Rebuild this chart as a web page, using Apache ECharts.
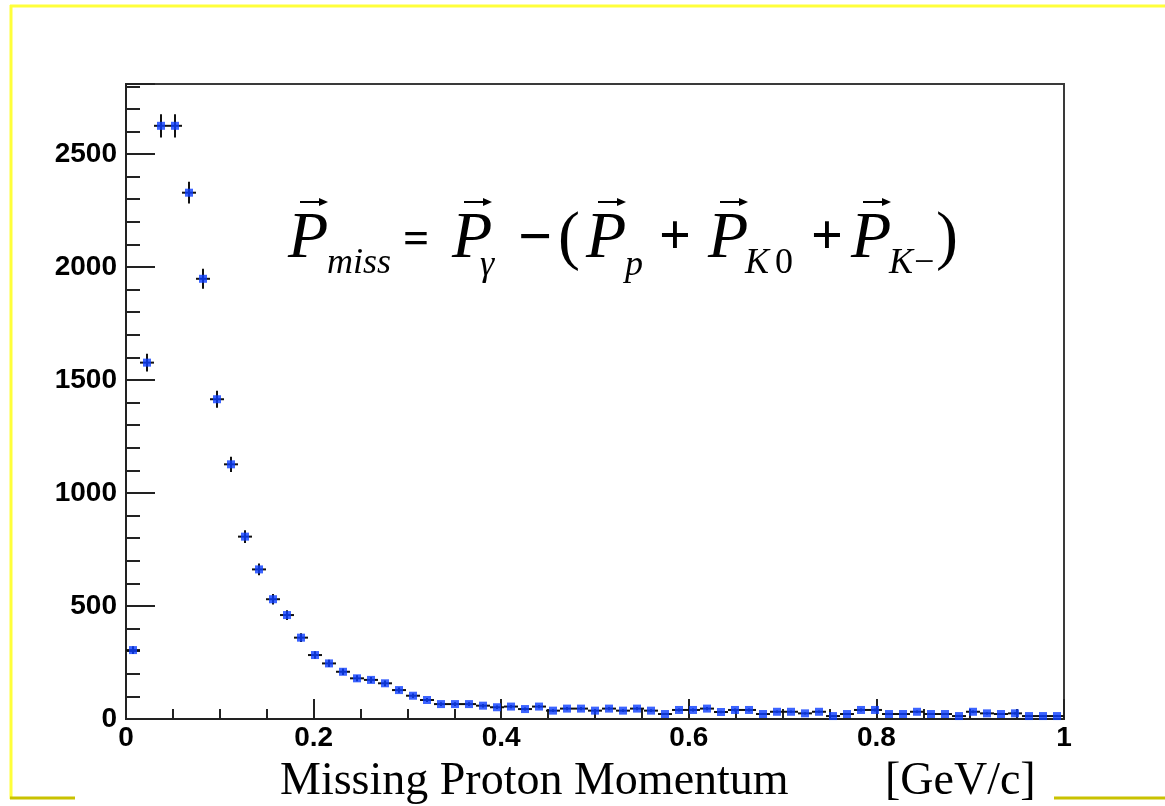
<!DOCTYPE html>
<html>
<head>
<meta charset="utf-8">
<title>Missing Proton Momentum</title>
<script src="https://cdn.jsdelivr.net/npm/echarts@6/dist/echarts.min.js"></script>
<style>
  html, body { margin: 0; padding: 0; background: #ffffff; }
  #chart { width: 1165px; height: 806px; }
</style>
</head>
<body>
<div id="chart"></div>
<script>
// Histogram of the missing proton momentum, 67 equal bins over [0, 1] GeV/c
const X_MIN = 0;
const X_MAX = 1;
const counts = [
  305, 1577, 2625, 2625, 2329, 1948, 1415, 1127, 807, 662,
  530, 460, 360, 283, 246, 209, 180, 173, 158, 128,
  103, 84, 66, 66, 66, 59, 52, 55, 44, 55,
  37, 46, 46, 37, 46, 37, 46, 37, 22, 40,
  40, 46, 31, 40, 40, 22, 32, 32, 25, 32,
  13, 22, 40, 40, 22, 22, 32, 22, 22, 13,
  32, 25, 22, 25, 13, 13, 13
];
const Y_MAX = 2810;
const xTickStep = 0.2;
const yTickStep = 500;
const yMinorStep = 100;

const binWidth = (X_MAX - X_MIN) / counts.length;
// [bin centre, entries, statistical error]
const points = counts.map((n, k) => [X_MIN + (k + 0.5) * binWidth, n, Math.sqrt(n)]);

const chart = echarts.init(document.getElementById('chart'), null, { renderer: 'canvas' });

const labelFont = { fontFamily: 'Liberation Sans', fontWeight: 'bold', fontSize: 28, color: '#000' };
const tickStyle = { color: '#222', width: 2 };

// vector "P" with an arrow on top
function vecP(x, yMid) {
  const ax1 = x + 12, ax2 = x + 40, ay = yMid - 38;
  return [
    { type: 'text', x: x, y: yMid, style: { text: 'P', font: 'italic 66px "Liberation Serif"', fill: '#000', verticalAlign: 'middle' } },
    { type: 'line', shape: { x1: ax1, y1: ay, x2: ax2 - 6, y2: ay }, style: { stroke: '#000', lineWidth: 2 } },
    { type: 'polygon', shape: { points: [[ax2 - 9, ay - 4], [ax2, ay], [ax2 - 9, ay + 4]] }, style: { fill: '#000' } }
  ];
}
function txt(text, x, yMid, font) {
  return { type: 'text', x: x, y: yMid, style: { text: text, font: font, fill: '#000', verticalAlign: 'middle' } };
}
const subFont = 'italic 36px "Liberation Serif"';
const subUpright = '36px "Liberation Serif"';

const yC = 240;   // middle of the large symbols
const yS = 264;   // middle of the subscripts
const formula = [].concat(
  vecP(288, yC), [txt('miss', 327, yS, subFont)],
  [txt('=', 403, yC + 1, 'bold 46px "Liberation Serif"')],
  vecP(452, yC), [txt('γ', 480, yS + 2, subFont)],
  [txt('−', 518, yC, 'bold 60px "Liberation Serif"')],
  [txt('(', 558, yC, '66px "Liberation Serif"')],
  vecP(586, yC), [txt('p', 625, yS + 2, subFont)],
  [txt('+', 659, yC, 'bold 56px "Liberation Serif"')],
  vecP(708, yC), [txt('K', 745, yS, subFont), txt('0', 775, yS, subUpright)],
  [txt('+', 811, yC, 'bold 56px "Liberation Serif"')],
  vecP(851, yC), [txt('K', 889, yS, subFont), txt('−', 914, yS, subUpright)],
  [txt(')', 936, yC, '66px "Liberation Serif"')]
);

// slide frame
const frame = [
  { type: 'line', shape: { x1: 10, y1: 6, x2: 1165, y2: 6 }, style: { stroke: '#ffff3a', lineWidth: 3 } },
  { type: 'line', shape: { x1: 11, y1: 5, x2: 11, y2: 799 }, style: { stroke: '#ffff3a', lineWidth: 3 } },
  { type: 'line', shape: { x1: 10, y1: 798, x2: 75, y2: 798 }, style: { stroke: '#c9c200', lineWidth: 3 } },
  { type: 'line', shape: { x1: 1054, y1: 798, x2: 1165, y2: 798 }, style: { stroke: '#c9c200', lineWidth: 3 } }
];

const axisTitle = [
  txt('Missing Proton Momentum', 280, 782, '46px "Liberation Serif"'),
  txt('[GeV/c]', 885, 782, '46px "Liberation Serif"')
];

chart.setOption({
  backgroundColor: '#ffffff',
  animation: false,
  grid: {
    left: 126, top: 84, width: 938, height: 635,
    show: true, borderColor: '#3a3a3a', borderWidth: 2, backgroundColor: 'transparent'
  },
  xAxis: {
    type: 'value', min: X_MIN, max: X_MAX, interval: xTickStep,
    axisLine: { show: true, onZero: false, lineStyle: { color: '#222', width: 2 } },
    axisTick: { show: true, inside: true, length: 20, lineStyle: tickStyle },
    minorTick: { show: true, splitNumber: 4, length: 10, lineStyle: tickStyle },
    splitLine: { show: false },
    axisLabel: Object.assign({ margin: 5 }, labelFont)
  },
  yAxis: [
    {
      type: 'value', min: 0, max: Y_MAX, interval: yTickStep,
      axisLine: { show: true, onZero: false, lineStyle: { color: '#222', width: 2 } },
      axisTick: { show: true, inside: true, length: 29, lineStyle: tickStyle },
      splitLine: { show: false },
      axisLabel: Object.assign({
        margin: 9,
        formatter: v => (v % yTickStep === 0 ? String(v) : '')
      }, labelFont)
    },
    {
      type: 'value', min: 0, max: Y_MAX, interval: yMinorStep, position: 'left',
      axisLine: { show: false },
      axisTick: { show: true, inside: true, length: 14, lineStyle: tickStyle },
      splitLine: { show: false },
      axisLabel: { show: false }
    }
  ],
  series: [
    {
      type: 'custom',
      name: 'errors',
      data: points,
      clip: true,
      z: 2,
      renderItem: function (params, api) {
        const x = api.value(0), y = api.value(1), e = api.value(2);
        const l = api.coord([x - binWidth / 2, y]);
        const r = api.coord([x + binWidth / 2, y]);
        const t = api.coord([x, y + e]);
        const b = api.coord([x, y - e]);
        const st = { stroke: '#111', lineWidth: 2 };
        return {
          type: 'group',
          children: [
            { type: 'line', shape: { x1: l[0], y1: l[1], x2: r[0], y2: r[1] }, style: st },
            { type: 'line', shape: { x1: t[0], y1: t[1], x2: b[0], y2: b[1] }, style: st }
          ]
        };
      }
    },
    {
      type: 'scatter',
      name: 'entries',
      data: points.map(p => [p[0], p[1]]),
      symbol: 'rect',
      symbolSize: 8,
      itemStyle: { color: '#0b3dff' },
      z: 3
    }
  ],
  graphic: frame.concat(axisTitle, formula)
});
</script>
</body>
</html>
